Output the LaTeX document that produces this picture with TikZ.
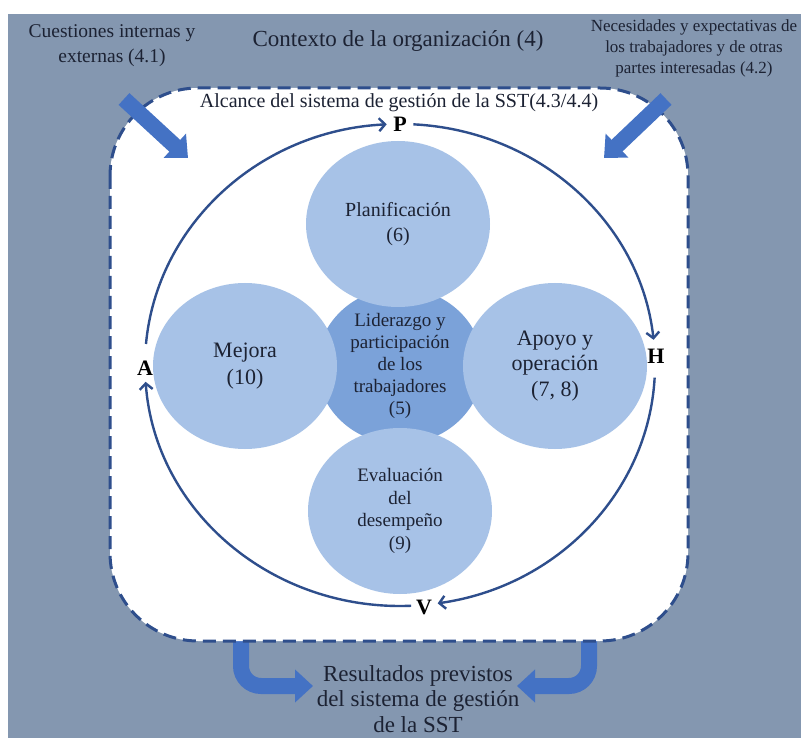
\documentclass[tikz,border=0pt]{standalone}
\usepackage{fontspec}
\setmainfont{Liberation Serif}
\usetikzlibrary{arrows.meta,shapes.geometric}

\definecolor{ctxbg}{HTML}{8497B0}
\definecolor{blockblue}{HTML}{4472C4}
\definecolor{navy}{HTML}{2E4E8C}
\definecolor{petal}{HTML}{A7C2E7}
\definecolor{core}{HTML}{7BA2D9}
\definecolor{ink}{HTML}{1C2233}

\tikzset{
  label text/.style={text=ink, align=center, inner sep=0pt},
  petalnode/.style={ellipse, fill=petal, minimum width=184pt, minimum height=166pt,
    inner sep=0pt, text=ink, align=center},
  corenode/.style={ellipse, fill=core, minimum width=166pt, minimum height=156pt,
    inner sep=0pt, text=ink, align=center},
  pdca/.style={text=black, font=\fontsize{22}{22}\selectfont\bfseries, inner sep=1pt},
  cycle arc/.style={draw=navy, line width=2.4pt, -{Straight Barb[length=6pt,width=13pt]}},
  block arrow/.style={draw=blockblue, line width=16pt, -{Triangle[length=18pt,width=32pt]}},
  scope box/.style={draw=navy, fill=white, line width=3pt, dash pattern=on 13pt off 7pt,
    rounded corners=88pt},
  cyc radii/.style={x radius=255, y radius=241},
}

\begin{document}
\begin{tikzpicture}[x=1pt, y=-1pt]
  \useasboundingbox (0,0) rectangle (801,738);
  % context background
  \fill[ctxbg] (8,14) rectangle (801,738);

  % outputs of the system (drawn under the scope box)
  \node[label text, font=\fontsize{23}{25.5}\selectfont] (res) at (418,699)
    {Resultados previstos\\del sistema de gestión\\de la SST};
  \coordinate (outL0) at (241,620);
  \coordinate (outL1) at (313,686);
  \coordinate (outR0) at (589,620);
  \coordinate (outR1) at (517,686);
  \draw[block arrow, rounded corners=20pt] (outL0) -- (outL0 |- outL1) -- (outL1);
  \draw[block arrow, rounded corners=20pt] (outR0) -- (outR0 |- outR1) -- (outR1);

  % scope of the OH&S management system
  \draw[scope box] (110,88) rectangle (688,641);

  % headings
  \node[label text, font=\fontsize{23}{26}\selectfont] (ctx) at (398,41)
    {Contexto de la organización (4)};
  \node[label text, font=\fontsize{19.5}{25}\selectfont] (cuest) at (112,46)
    {Cuestiones internas y\\externas (4.1)};
  \node[label text, font=\fontsize{17}{21}\selectfont] (nec) at (694,48)
    {Necesidades y expectativas de\\los trabajadores y de otras\\partes interesadas (4.2)};
  \node[label text, font=\fontsize{20}{24}\selectfont] (alc) at (399,103)
    {Alcance del sistema de gestión de la SST(4.3/4.4)};

  % inputs into the scope
  \coordinate (inL0) at (124,99);
  \coordinate (inL1) at (188,158);
  \coordinate (inR0) at (666,99);
  \coordinate (inR1) at (604,158);
  \draw[block arrow] (inL0) -- (inL1);
  \draw[block arrow] (inR0) -- (inR1);

  % central circle and the four stages
  \node[corenode, font=\fontsize{19}{22}\selectfont] (lid) at (400,366)
    {Liderazgo y\\participación\\de los\\trabajadores\\(5)};
  \node[petalnode, font=\fontsize{20}{25}\selectfont] (plan) at (398,224)
    {Planificación\\(6)};
  \node[petalnode, font=\fontsize{22}{27}\selectfont] (mej) at (245,366)
    {Mejora\\(10)};
  \node[petalnode, font=\fontsize{22}{25.5}\selectfont] (apo) at (555,366)
    {Apoyo y\\operación\\(7, 8)};
  \node[petalnode, font=\fontsize{19}{22.5}\selectfont] (eva) at (400,511)
    {Evaluación\\del\\desempeño\\(9)};

  % PHVA cycle (angles run clockwise on the page, 270 = top)
  \coordinate (cyc) at (400,365);
  \node[pdca] (P) at (400,124) {P};
  \node[pdca] (H) at (656,356) {H};
  \node[pdca] (V) at (424,607) {V};
  \node[pdca] (A) at (145,368) {A};
  \draw[cycle arc] (cyc) ++(185:255 and 241)
    arc[start angle=185, end angle=267, cyc radii];
  \draw[cycle arc] (cyc) ++(273:255 and 241)
    arc[start angle=273, end angle=354, cyc radii];
  \draw[cycle arc] (cyc) ++(3:255 and 241)
    arc[start angle=3, end angle=81.5, cyc radii];
  \draw[cycle arc] (cyc) ++(87.5:255 and 241)
    arc[start angle=87.5, end angle=176, cyc radii];
\end{tikzpicture}
\end{document}
